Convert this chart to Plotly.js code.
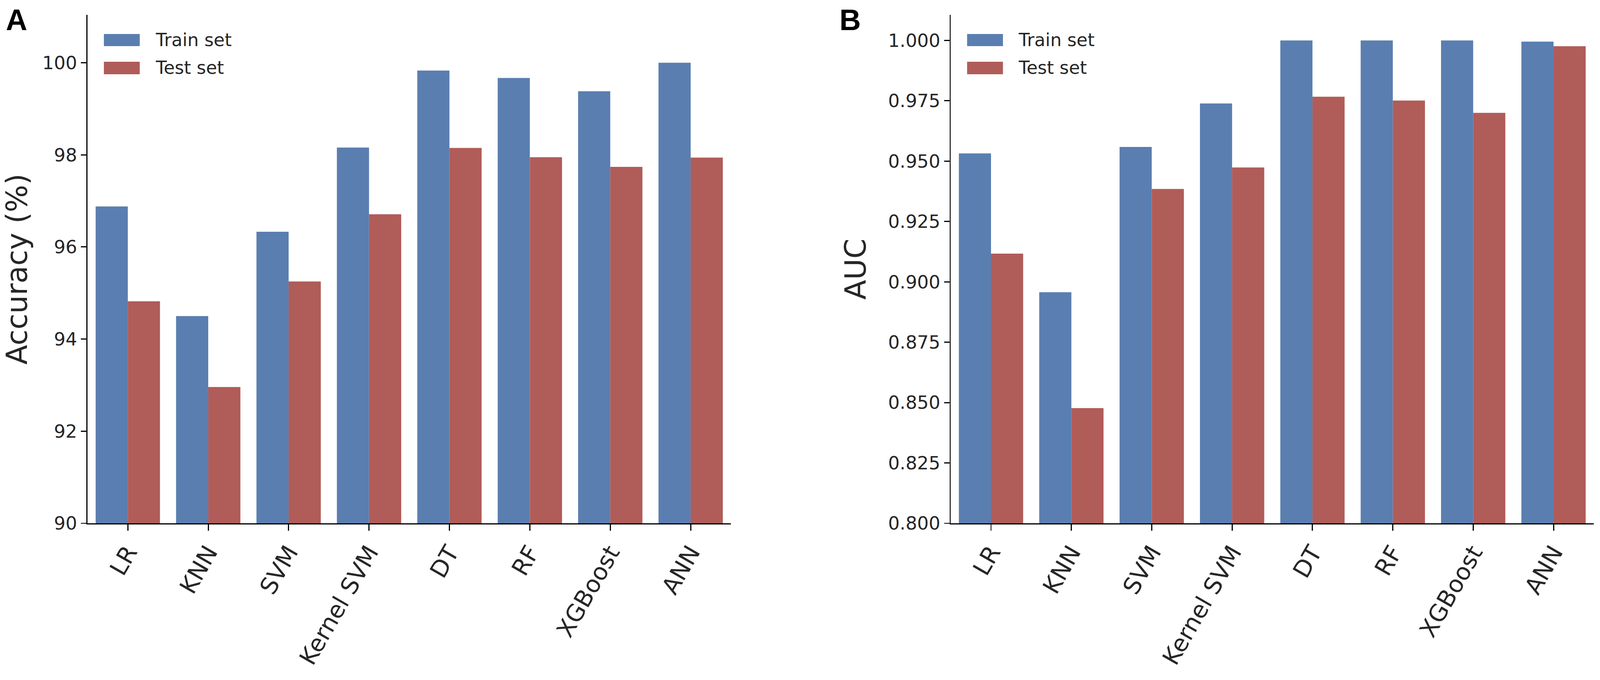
<!DOCTYPE html>
<html>
<head>
<meta charset="utf-8">
<script src="https://cdn.plot.ly/plotly-3.0.1.min.js"></script>
<style>html,body{margin:0;padding:0;background:#fff;overflow:hidden;}#chart{width:100vw;height:100vh;}</style>
</head>
<body>
<div id="chart"></div>
<script>
// ---- data ----
const categories = ["LR", "KNN", "SVM", "Kernel SVM", "DT", "RF", "XGBoost", "ANN"];
const accTrain = [96.88, 94.50, 96.33, 98.16, 99.83, 99.67, 99.38, 100.0];
const accTest  = [94.82, 92.96, 95.25, 96.71, 98.15, 97.95, 97.74, 97.94];
const aucTrain = [0.9532, 0.8957, 0.9559, 0.9739, 1.000, 1.000, 1.000, 0.9995];
const aucTest  = [0.9117, 0.8477, 0.9385, 0.9474, 0.9767, 0.9751, 0.9700, 0.9976];
const seriesNames = ["Train set", "Test set"];
const accTicks = [90, 92, 94, 96, 98, 100];
const aucTicks = [0.800, 0.825, 0.850, 0.875, 0.900, 0.925, 0.950, 0.975, 1.000];
const panelLabels = ["A", "B"];
const yTitles = ["Accuracy (%)", "AUC"];

// ---- sizing: reference is 4328 x 1740, adapt to the real viewport ----
const W = 4328, H = 1740;
const VW = window.innerWidth || W, VH = window.innerHeight || H;
const f = Math.sqrt((VW / W) * (VH / H));
const s = v => v * f;
const BLUE = "#5a7eb0", RED = "#b05c59";
const TXT = "#262626";
const px = v => v / W;          // reference horizontal pixel -> paper
const py = v => 1 - v / H;      // reference vertical pixel -> paper

function bars(y, name, color, xa, ya) {
  return {type: "bar", x: categories, y: y, name: name, xaxis: xa, yaxis: ya,
          marker: {color: color, line: {width: 0}}, showlegend: false, hoverinfo: "x+y+name"};
}

const traces = [
  bars(accTrain, seriesNames[0], BLUE, "x", "y"),
  bars(accTest,  seriesNames[1], RED,  "x", "y"),
  bars(aucTrain, seriesNames[0], BLUE, "x2", "y2"),
  bars(aucTest,  seriesNames[1], RED,  "x2", "y2")
];

const tickFontX = {family: "DejaVu Sans", size: s(62), color: TXT};
const tickFontY = {family: "DejaVu Sans", size: s(48), color: TXT};
const titleFont = {family: "DejaVu Sans", size: s(76), color: TXT};

function xAxis(domain, anchor) {
  return {domain: domain, anchor: anchor, type: "category", range: [-0.5, 7.5],
          showline: true, linecolor: "#000", linewidth: s(3), mirror: false,
          ticks: "outside", ticklen: s(17), tickwidth: s(3), tickcolor: "#000",
          tickangle: -60, tickfont: tickFontX, ticklabelstandoff: -4,
          showgrid: false, zeroline: false,
          automargin: false, fixedrange: true};
}
function yAxis(domain, anchor, range, tickvals, fmt, title, linecolor, standoff) {
  return {domain: domain, anchor: anchor, range: range, tickvals: tickvals,
          ticktext: tickvals.map(v => fmt(v)),
          showline: true, linecolor: linecolor, linewidth: s(3),
          ticks: "outside", ticklen: s(15), tickwidth: s(3), tickcolor: "#000",
          tickfont: tickFontY, showgrid: false, zeroline: false,
          title: {text: title, font: titleFont, standoff: s(standoff)},
          automargin: false, fixedrange: true};
}

const yDom = [py(1339), py(38)];
const layout = {
  width: VW, height: VH,
  margin: {l: 0, r: 0, t: 0, b: 0, pad: 0},
  paper_bgcolor: "#fff", plot_bgcolor: "#fff",
  barmode: "group", bargap: 0.2, bargroupgap: 0,
  showlegend: false,
  font: {family: "DejaVu Sans", color: TXT},
  xaxis:  xAxis([px(237), px(1977)], "y"),
  yaxis:  yAxis(yDom, "x", [90, 101.04], accTicks, v => String(v), yTitles[0], "#000", 34),
  xaxis2: xAxis([px(2572), px(4311)], "y2"),
  yaxis2: yAxis(yDom, "x2", [0.8, 1.0106], aucTicks, v => v.toFixed(3), yTitles[1], "#333", 34),
  shapes: [],
  annotations: []
};

// panel letters
[[14, 50], [2269, 50]].forEach((p, i) => {
  layout.annotations.push({xref: "paper", yref: "paper", x: px(p[0]), y: py(p[1]),
    xanchor: "left", yanchor: "middle", showarrow: false, text: "<b>" + panelLabels[i] + "</b>",
    font: {family: "Liberation Sans", size: s(78), color: "#000"}});
});

// legends (one per panel)
[237, 2572].forEach(axX => {
  const colors = [BLUE, RED];
  const rows = [[87, 118], [158, 190]];
  rows.forEach((r, k) => {
    layout.shapes.push({type: "rect", xref: "paper", yref: "paper",
      x0: px(axX + 44), x1: px(axX + 141), y0: py(r[1]), y1: py(r[0]),
      fillcolor: colors[k], line: {width: 0}});
    layout.annotations.push({xref: "paper", yref: "paper", x: px(axX + 181), y: py((r[0] + r[1]) / 2),
      xanchor: "left", yanchor: "middle", showarrow: false, text: seriesNames[k],
      font: {family: "DejaVu Sans", size: s(47), color: TXT}});
  });
});

Plotly.newPlot("chart", traces, layout, {staticPlot: true, displayModeBar: false});
</script>
</body>
</html>
